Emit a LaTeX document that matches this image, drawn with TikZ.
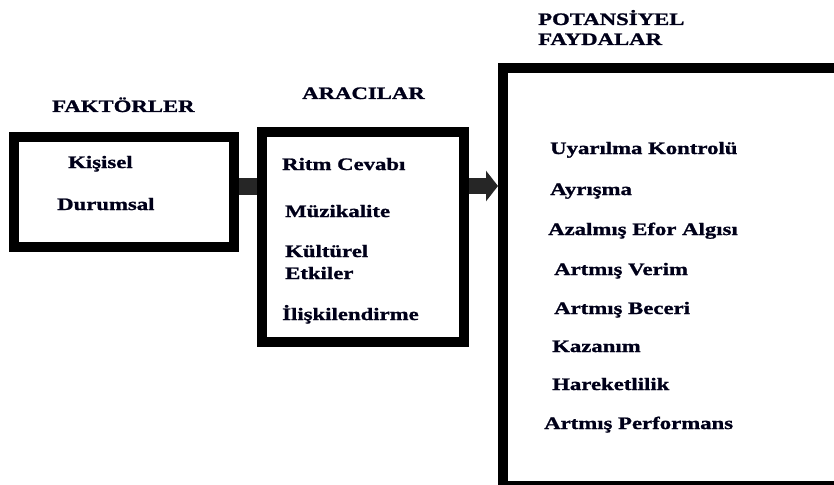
\documentclass[tikz,border=0pt]{standalone}
\usepackage{fontspec}
\setmainfont{Liberation Serif}[FakeStretch=1.3,BoldFeatures={FakeBold=1.2}]
\usetikzlibrary{arrows.meta}
\begin{document}
\begin{tikzpicture}[x=1pt,y=-1pt,
  box/.style={draw=black,line width=10pt,inner sep=0pt},
  lbl/.style={anchor=base west,inner sep=0pt,text=black!90!blue,font=\fontsize{17.5}{20}\selectfont\bfseries},
  link/.style={draw=black!85,fill=black!85,line width=17pt}]
\useasboundingbox (0,0) rectangle (834,484);
\clip (0,0) rectangle (834,484);
% boxes
\node[box,minimum width=220pt,minimum height=110pt] (f) at (124,192) {};
\node[box,minimum width=202pt,minimum height=210pt] (a) at (363,237) {};
\node[box,minimum width=342pt,minimum height=418pt] (p) at (674,277) {};
% connectors
\coordinate (ay) at (0,186);
\draw[link] (f.east |- ay) -- (a.west |- ay);
\draw[link,line width=16pt,-{Triangle[length=12pt,width=30pt]}] (a.east |- ay) -- (p.west |- ay);
% headings
\node[lbl] (hf) at (52,112) {FAKTÖRLER};
\node[lbl] (ha) at (302,99) {ARACILAR};
\node[lbl] (hp1) at (538,25) {POTANSİYEL};
\node[lbl] (hp2) at (538,45) {FAYDALAR};
% factors
\node[lbl] (f1) at (68,168) {Kişisel};
\node[lbl] (f2) at (57,210) {Durumsal};
% mediators
\node[lbl] (a1) at (282,170) {Ritm Cevabı};
\node[lbl] (a2) at (285,217) {Müzikalite};
\node[lbl] (a3) at (285,257) {Kültürel};
\node[lbl] (a4) at (285,279) {Etkiler};
\node[lbl] (a5) at (282,320) {İlişkilendirme};
% benefits
\node[lbl] (p1) at (550,154) {Uyarılma Kontrolü};
\node[lbl] (p2) at (550,195) {Ayrışma};
\node[lbl] (p3) at (548,235) {Azalmış Efor Algısı};
\node[lbl] (p4) at (554,275) {Artmış Verim};
\node[lbl] (p5) at (554,314) {Artmış Beceri};
\node[lbl] (p6) at (552,352) {Kazanım};
\node[lbl] (p7) at (552,390) {Hareketlilik};
\node[lbl] (p8) at (544,429) {Artmış Performans};
\end{tikzpicture}
\end{document}
